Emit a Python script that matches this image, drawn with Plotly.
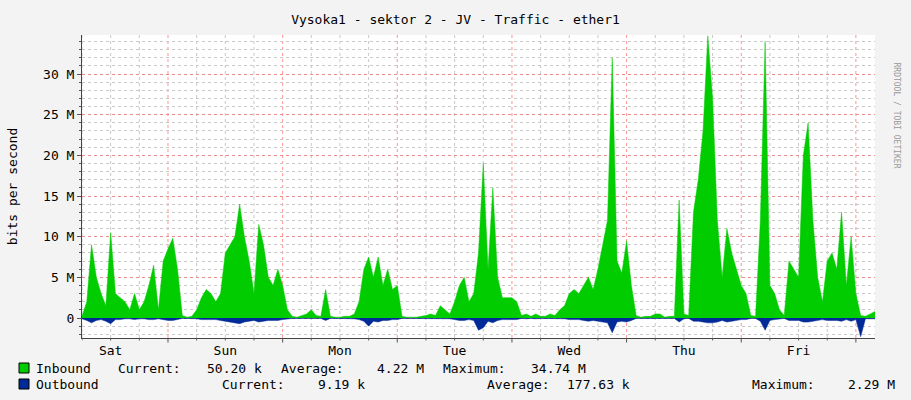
import plotly.graph_objects as go

hours = list(range(167))
inbound_M = [0.2,2,9,5,3,1.5,10.5,3,2.5,2,1,3,1,2,4,6.5,1,7,8.5,9.8,6,0.3,0.1,0.2,1,2.5,3.5,3,2,3,8,9,10,14,10,7,3,11.5,9,5,4,6,4,1,0.2,0.1,0.3,0.5,1,0.3,0.2,3.5,0.2,0.1,0.1,0.2,0.2,0.5,2,6,7.5,5,7.5,4,6,3.5,4,0.2,0.1,0.1,0.1,0.2,0.3,0.5,0.3,1.5,1,0.5,2,4,5,2,3,8,19,6,16,5,2.5,2.5,2.5,2,0.3,0.5,0.2,0.5,0.2,0.2,0.5,0.3,1,1.5,3,3.5,3,4,5,3.5,6,9,12,32,7,5.5,9.5,4,0.3,0.1,0.2,0.2,0.5,0.5,0.1,0.2,0.2,14.5,0.5,0.3,13,17,23,34.7,27,12,5,11,8,6,4,3,0.3,0.2,12,34,4,3,1,0.3,7,6,5,20,24,12,5,2,7,8,6,13,4,10,3,0.3,0.2,0.5,0.8]
outbound_M = [-0.1,-0.3,-0.6,-0.3,-0.2,-0.4,-0.7,-0.2,-0.2,-0.1,-0.1,-0.2,-0.1,-0.1,-0.2,-0.2,-0.1,-0.2,-0.3,-0.3,-0.2,-0.05,-0.05,-0.05,-0.1,-0.2,-0.2,-0.2,-0.2,-0.3,-0.4,-0.5,-0.6,-0.7,-0.5,-0.4,-0.3,-0.5,-0.4,-0.3,-0.3,-0.3,-0.2,-0.1,-0.05,-0.05,-0.05,-0.05,-0.1,-0.05,-0.05,-0.3,-0.05,-0.05,-0.05,-0.05,-0.05,-0.1,-0.2,-0.4,-1.0,-0.4,-0.5,-0.3,-0.3,-0.2,-0.2,-0.05,-0.05,-0.05,-0.05,-0.05,-0.05,-0.1,-0.05,-0.1,-0.1,-0.1,-0.2,-0.3,-0.3,-0.2,-0.3,-1.5,-1.2,-0.4,-0.6,-0.3,-0.2,-0.2,-0.2,-0.2,-0.05,-0.1,-0.05,-0.1,-0.05,-0.05,-0.1,-0.05,-0.1,-0.1,-0.2,-0.2,-0.2,-0.3,-0.4,-0.3,-0.4,-0.5,-0.6,-1.8,-0.5,-0.4,-0.5,-0.3,-0.05,-0.05,-0.05,-0.05,-0.1,-0.1,-0.05,-0.05,-0.05,-0.5,-0.1,-0.05,-0.4,-0.4,-0.5,-0.6,-0.6,-0.5,-0.3,-0.5,-0.4,-0.3,-0.2,-0.2,-0.05,-0.05,-0.4,-1.5,-0.3,-0.2,-0.1,-0.05,-0.3,-0.3,-0.3,-0.5,-0.5,-0.4,-0.3,-0.2,-0.3,-0.3,-0.3,-0.4,-0.2,-0.4,-0.2,-2.3,-0.1,-0.1,-0.1]
day_labels = ["Sat","Sun","Mon","Tue","Wed","Thu","Fri"]
day_noon_hours = [6,30,54,78,102,126,150]
midnight_hours = [18,42,66,90,114,138,162]
legend_rows = [
    ["Inbound", "Current:", "50.20 k", "Average:", "4.22 M", "Maximum:", "34.74 M"],
    ["Outbound", "Current:", "9.19 k", "Average:", "177.63 k", "Maximum:", "2.29 M"],
]

M = 1e6
inb = [v*M for v in inbound_M]
outb = [v*M for v in outbound_M]
F = "DejaVu Sans Mono"
FS = 13

fig = go.Figure()
fig.add_trace(go.Scatter(x=hours, y=inb, fill="tozeroy", mode="lines", line=dict(width=0.5, color="#00CC00"), fillcolor="#00CC00"))
fig.add_trace(go.Scatter(x=hours, y=outb, fill="tozeroy", mode="lines", line=dict(width=0.5, color="#002A97"), fillcolor="#002A97"))

fig.update_layout(
    width=911, height=400, showlegend=False,
    paper_bgcolor="#F3F3F3", plot_bgcolor="#FFFFFF",
    margin=dict(l=82, r=36, t=35, b=62, autoexpand=False),
    font=dict(family=F, size=FS, color="#000"),
    title=dict(text="Vysoka1 - sektor 2 - JV - Traffic - ether1", x=0.5, xanchor="center", y=0.963, font=dict(family=F, size=FS)),
    xaxis=dict(range=[0,166], tickmode="array", tickvals=day_noon_hours, ticktext=day_labels,
               ticks="", showgrid=False, automargin=False,
               showline=True, linecolor="#444", zeroline=False),
    yaxis=dict(range=[-2.46*M, 34.8*M], tickvals=[0,5*M,10*M,15*M,20*M,25*M,30*M],
               ticktext=["0","5 M","10 M","15 M","20 M","25 M","30 M"],
               showgrid=True, gridcolor="rgba(255,100,100,0.6)", griddash="dot",
               minor=dict(dtick=M, showgrid=True, gridcolor="#C8C8C8", griddash="dot", ticks="outside", ticklen=2),
               ticks="outside", ticklen=4, tickcolor="#555", showline=True, linecolor="#444",
               zeroline=False, automargin=False,
               title=dict(text="bits per second", font=dict(family=F, size=FS), standoff=22)),
)
for h in range(0, 167, 6):
    if h in midnight_hours:
        continue
    fig.add_shape(type="line", xref="x", yref="paper", x0=h, x1=h, y0=0, y1=1, layer="below",
                  line=dict(color="#C8C8C8", width=1, dash="dot"))
    fig.add_shape(type="line", xref="x", yref="paper", x0=h, x1=h, y0=0, y1=-0.008,
                  line=dict(color="#555", width=1))
for h in midnight_hours:
    fig.add_shape(type="line", xref="x", yref="paper", x0=h, x1=h, y0=0, y1=1, layer="below",
                  line=dict(color="rgba(255,100,100,0.7)", width=1, dash="dot"))
    fig.add_shape(type="line", xref="x", yref="paper", x0=h, x1=h, y0=0, y1=-0.015,
                  line=dict(color="#555", width=1))

def px(x): return (x-82)/793
def py(y): return (338-y)/303

row_y = [368, 384]
row_x = [[34,116,205,279,375,441,529],[34,220,316,485,565,750,846]]
for r, (row, xs) in enumerate(zip(legend_rows, row_x)):
    for txt, x in zip(row, xs):
        fig.add_annotation(text=txt, xref="paper", yref="paper", x=px(x), y=py(row_y[r]),
                           xanchor="left", yanchor="middle", showarrow=False, font=dict(family=F, size=FS))
for yy, col in zip(row_y, ["#00CC00", "#002A97"]):
    fig.add_shape(type="rect", xref="paper", yref="paper", x0=px(19), x1=px(29),
                  y0=py(yy+5), y1=py(yy-5), fillcolor=col, line=dict(color="#000", width=1))
fig.add_annotation(text="RRDTOOL / TOBI OETIKER", xref="paper", yref="paper", x=px(903), y=py(60),
                   textangle=90, showarrow=False, font=dict(family=F, size=8, color="#999"))
fig.write_html("out.html", config={"displayModeBar": False},
               post_script="document.body.style.margin='0';document.body.style.padding='0';")
